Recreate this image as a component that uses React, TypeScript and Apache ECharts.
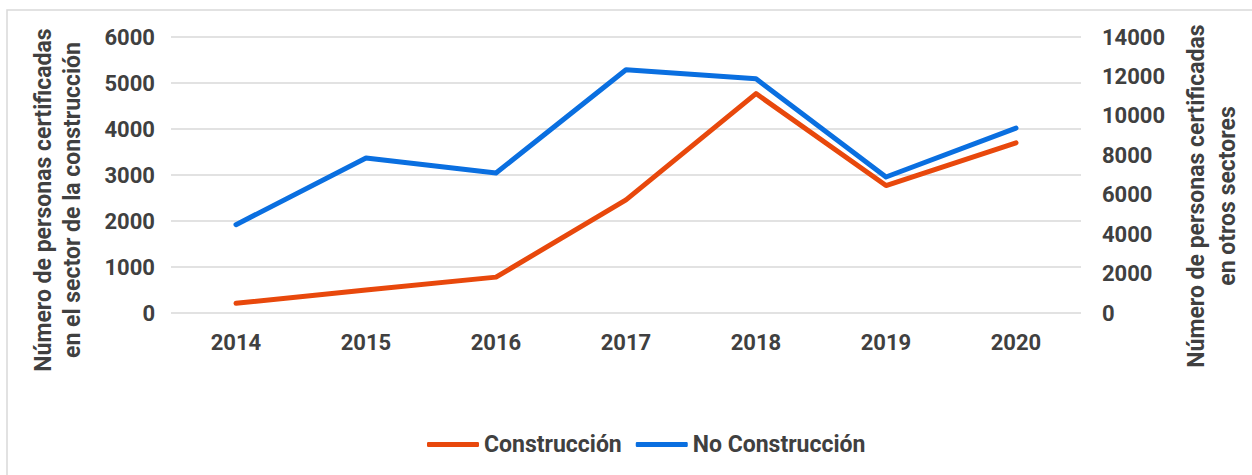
import React, { useEffect, useRef } from "react";
import * as echarts from "echarts";

const years = ["2014", "2015", "2016", "2017", "2018", "2019", "2020"];
const construccion = [210, 500, 780, 2460, 4770, 2770, 3700];
const noConstruccion = [4480, 7860, 7100, 12340, 11880, 6900, 9380];
const leftTitle = "Número de personas certificadas\nen el sector de la construcción";
const rightTitle = "Número de personas certificadas\nen otros sectores";

const TEXT = "#404040";
const FONT = "Roboto";

export default function App() {
  const ref = useRef<HTMLDivElement>(null);
  useEffect(() => {
    const chart = echarts.init(ref.current!, null, { renderer: "svg" });
    chart.setOption({
      animation: false,
      backgroundColor: "#fff",
      textStyle: { fontFamily: FONT },
      grid: { left: 171, right: 171, top: 37, bottom: 162, containLabel: false },
      legend: {
        bottom: 19,
        left: 427,
        padding: 0,
        itemWidth: 52,
        itemHeight: 5,
        itemGap: 14,
        icon: "roundRect",
        textStyle: { color: TEXT, fontSize: 23, fontWeight: "bold", fontFamily: FONT },
        data: ["Construcción", "No Construcción"],
      },
      xAxis: {
        type: "category",
        data: years,
        boundaryGap: true,
        axisLine: { show: false },
        axisTick: { show: false },
        axisLabel: { color: TEXT, fontSize: 22, fontWeight: "bold", margin: 18, fontFamily: FONT },
      },
      yAxis: [
        {
          type: "value",
          min: 0,
          max: 6000,
          interval: 1000,
          axisLine: { show: false },
          axisTick: { show: false },
          splitLine: { lineStyle: { color: "#d9d9d9", width: 1.5 } },
          axisLabel: {
            color: TEXT, fontSize: 22, fontWeight: "bold", margin: 16, fontFamily: FONT,
            formatter: (v: number) => String(v),
          },
        },
        {
          type: "value",
          min: 0,
          max: 14000,
          interval: 2000,
          position: "right",
          axisLine: { show: false },
          axisTick: { show: false },
          splitLine: { show: false },
          axisLabel: {
            color: TEXT, fontSize: 22, fontWeight: "bold", margin: 21, fontFamily: FONT,
            formatter: (v: number) => String(v),
          },
        },
      ],
      series: [
        {
          name: "Construcción",
          type: "line",
          yAxisIndex: 0,
          data: construccion,
          showSymbol: false,
          symbol: "none",
          color: "#E8480C",
          lineStyle: { width: 5, color: "#E8480C", cap: "round", join: "round" },
        },
        {
          name: "No Construcción",
          type: "line",
          yAxisIndex: 1,
          data: noConstruccion,
          showSymbol: false,
          symbol: "none",
          color: "#0A6FE0",
          lineStyle: { width: 5, color: "#0A6FE0", cap: "round", join: "round" },
        },
      ],
      graphic: [
        {
          type: "rect",
          shape: { x: 7, y: 10, width: 1260, height: 480 },
          style: { fill: "none", stroke: "#d9d9d9", lineWidth: 1.5 },
          silent: true,
        },
        {
          type: "text",
          x: 58,
          y: 200,
          rotation: Math.PI / 2,
          style: {
            text: leftTitle,
            fill: TEXT,
            font: `bold 23px ${FONT}`,
            align: "center",
            verticalAlign: "middle",
            lineHeight: 29,
          },
        },
        {
          type: "text",
          x: 1212,
          y: 196,
          rotation: Math.PI / 2,
          style: {
            text: rightTitle,
            fill: TEXT,
            font: `bold 23px ${FONT}`,
            align: "center",
            verticalAlign: "middle",
            lineHeight: 31,
          },
        },
      ],
    });
    return () => chart.dispose();
  }, []);
  return (
    <div
      ref={ref}
      style={{ position: "absolute", left: 0, top: 0, width: 1252, height: 475 }}
    />
  );
}
